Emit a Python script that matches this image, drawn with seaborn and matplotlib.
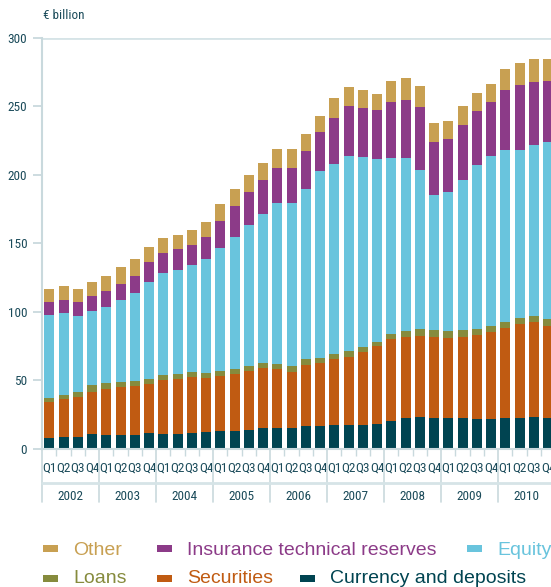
import numpy as np
import matplotlib
matplotlib.use("Agg")
import matplotlib.pyplot as plt
import matplotlib.transforms as mtransforms
from matplotlib.patches import Rectangle
from matplotlib import font_manager
import seaborn as sns

# ---------------- data (€ billion) ----------------
years = ["2002", "2003", "2004", "2005", "2006", "2007", "2008", "2009", "2010"]
quarters = ["Q1", "Q2", "Q3", "Q4"]

currency = [7.8, 8.5, 8.5, 10.7, 10.0, 10.0, 10.0, 11.4, 10.7, 10.7, 11.4, 12.2,
            12.9, 12.9, 13.6, 15.1, 15.1, 15.1, 16.5, 16.5, 17.3, 17.3, 17.3, 18.0,
            20.2, 22.4, 23.1, 22.4, 22.4, 22.4, 21.7, 21.7, 22.4, 22.4, 23.1, 22.4]
securities = [26.3, 27.8, 29.2, 30.7, 33.6, 35.0, 35.7, 36.0, 39.4, 40.2, 40.9, 39.6,
              40.1, 41.6, 43.1, 44.0, 43.1, 40.9, 44.6, 46.0, 48.2, 49.6, 53.3, 56.9,
              59.8, 59.1, 59.1, 59.1, 58.4, 59.1, 61.3, 63.5, 65.7, 68.6, 69.4, 67.1]
loans = [2.9, 2.9, 3.7, 4.8, 4.3, 3.7, 3.7, 3.5, 3.7, 3.6, 3.7, 3.4,
         3.7, 3.7, 3.6, 3.4, 3.6, 4.3, 4.4, 3.7, 3.6, 4.4, 3.6, 3.0,
         3.7, 4.4, 5.1, 5.1, 5.1, 5.1, 4.3, 4.3, 4.4, 4.4, 4.3, 5.1]
equity = [60.6, 59.8, 55.4, 54.3, 55.5, 59.8, 64.2, 70.8, 74.4, 75.9, 78.1, 83.2,
          89.8, 96.2, 102.9, 108.7, 117.4, 118.9, 124.0, 136.4, 138.6, 142.3, 138.6, 133.5,
          128.4, 126.2, 116.1, 98.5, 101.4, 109.4, 119.7, 124.1, 125.4, 122.5, 124.8, 129.2]
insurance = [9.7, 9.5, 10.3, 10.9, 11.7, 11.7, 12.4, 14.6, 14.6, 15.3, 14.6, 16.0,
             19.6, 22.6, 24.1, 24.8, 25.6, 25.6, 27.7, 28.5, 33.6, 36.5, 35.8, 35.8,
             40.9, 42.4, 46.0, 38.7, 38.7, 40.2, 39.4, 39.4, 43.9, 47.5, 46.0, 44.5]
other = [9.2, 10.2, 9.4, 10.3, 10.9, 12.4, 12.4, 10.9, 10.9, 10.2, 11.1, 11.0,
         12.4, 12.5, 12.4, 12.4, 13.9, 13.9, 12.4, 11.7, 14.6, 13.9, 13.2, 11.7,
         15.3, 16.0, 15.3, 13.9, 13.1, 13.9, 13.2, 13.2, 15.3, 16.1, 16.8, 16.1]

series_names = ["Currency and deposits", "Securities", "Loans", "Equity",
                "Insurance technical reserves", "Other"]
series_colors = ["#004451", "#c05b12", "#868b3d", "#69c4dd", "#8c3b88", "#c8a052"]

TEAL = "#1b4b5a"
LIGHT = "#c9d9dd"

# ---------------- fonts ----------------
installed = {f.name for f in font_manager.fontManager.ttflist}
narrow = None
for cand in ["Liberation Sans Narrow", "Roboto Condensed", "Open Sans Condensed",
             "DejaVu Sans Condensed"]:
    if cand in installed:
        narrow = cand
        break
if narrow == "Liberation Sans Narrow" or narrow == "Roboto Condensed":
    axis_family = [narrow, "DejaVu Sans"]
    q_size, ytick_size, year_size, unit_size = 9.5, 9.5, 9.5, 9.5
else:
    axis_family = ["Liberation Sans", "DejaVu Sans"]
    q_size, ytick_size, year_size, unit_size = 7.5, 8.6, 8.3, 8.3

# ---------------- figure ----------------
sns.set_theme(style="white")
plt.rcParams['font.family'] = axis_family

W, H = 551, 587
fig = plt.figure(figsize=(W / 100, H / 100), dpi=100)
ax_left, ax_bottom_px, ax_top_px = 42.2, 448.5, 37.7
ax = fig.add_axes([ax_left / W, 1 - ax_bottom_px / H, 1 - ax_left / W,
                   (ax_bottom_px - ax_top_px) / H])

periods = [f"{y}{q}" for y in years for q in quarters]
stack = np.cumsum(np.array([currency, securities, loans, equity, insurance, other]), axis=0)

for i in reversed(range(len(series_names))):
    sns.barplot(x=periods, y=stack[i], order=periods, color=series_colors[i],
                saturation=1, width=0.7, linewidth=0, errorbar=None, ax=ax)

n = len(periods)
px_per_unit = 57 / 4
ax.set_xlim(-0.5, (W - ax_left) / px_per_unit - 0.5)
ax.set_ylim(0, 300)
ax.set_xlabel("")
ax.set_ylabel("")

# y axis
ax.set_yticks(range(0, 301, 50))
ax.tick_params(axis="y", which="major", length=6.5, width=1.3, color=LIGHT,
               pad=4.3, labelsize=ytick_size, labelcolor=TEAL, left=True)
ax.axhline(300, color="#d6e4e7", lw=2, zorder=0)

# x axis quarter labels
ax.set_xticks(range(n))
ax.set_xticklabels([q for _ in years for q in quarters])
ax.tick_params(axis="x", which="major", length=0, pad=9.5, labelsize=q_size,
               labelcolor=TEAL)
ax.set_xticks([i + 0.5 for i in range(n - 1) if (i + 1) % 4 != 0], minor=True)
ax.tick_params(axis="x", which="minor", length=5, width=1, color=LIGHT, bottom=True)

for s in ["top", "right"]:
    ax.spines[s].set_visible(False)
for s in ["left", "bottom"]:
    ax.spines[s].set_color(LIGHT)
    ax.spines[s].set_linewidth(1.5)

ax_h = ax_bottom_px - ax_top_px
trans = mtransforms.blended_transform_factory(ax.transData, ax.transAxes)
sep_bottom = -(501.7 - ax_bottom_px) / ax_h
hline_y = -(482.7 - ax_bottom_px) / ax_h
year_y = -(497 - ax_bottom_px) / ax_h
for k in range(len(years) + 1):
    ax.plot([4 * k - 0.5] * 2, [0, sep_bottom], transform=trans, clip_on=False,
            color=LIGHT, lw=1.2)
ax.plot([-0.5, n + 2], [hline_y] * 2, transform=trans, clip_on=False, color="#d6e4e7", lw=2)
for k, y in enumerate(years):
    ax.text(4 * k + 1.5, year_y, y, transform=trans, ha="center", va="center",
            fontsize=year_size, color=TEAL)

fig.text(42.7 / W, 1 - 15.5 / H, "€ billion", ha="left", va="center",
         fontsize=unit_size, color=TEAL)

# legend
legend_items = [
    ("Other", 43.3, 73.3, 545, 554.7),
    ("Insurance technical reserves", 157.3, 186.7, 545, 554.7),
    ("Equity", 467, 497, 545, 554.7),
    ("Loans", 43.3, 73.3, 575, 583.0),
    ("Securities", 157.3, 186.7, 575, 583.0),
    ("Currency and deposits", 300, 330, 575, 583.0),
]
for name, mx, tx, mtop, base in legend_items:
    c = series_colors[series_names.index(name)]
    fig.add_artist(Rectangle((mx / W, 1 - (mtop + 7) / H), 15 / W, 7 / H,
                             transform=fig.transFigure, color=c, lw=0))
    fig.text(tx / W, 1 - base / H, name, ha="left", va="baseline", fontsize=14,
             color=c, family=["Liberation Sans", "DejaVu Sans"])

fig.savefig("out.png", dpi=100)
